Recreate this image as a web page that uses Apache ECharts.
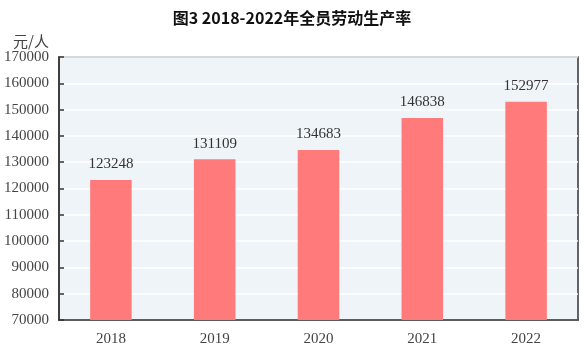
<!DOCTYPE html>
<html>
<head>
<meta charset="utf-8">
<script src="https://cdn.jsdelivr.net/npm/echarts@6/dist/echarts.min.js"></script>
<style>
  html, body { margin: 0; padding: 0; background: #fff; }
  #chart { width: 584px; height: 353px; }
</style>
</head>
<body>
<div id="chart"></div>
<script>
// 年份与全员劳动生产率（元/人）
const years = ['2018', '2019', '2020', '2021', '2022'];
const productivity = [123248, 131109, 134683, 146838, 152977];

const chart = echarts.init(document.getElementById('chart'));
const serif = '"Liberation Serif", "DejaVu Serif", serif';

chart.setOption({
  animation: false,
  title: {
    text: '图3 2018-2022年全员劳动生产率',
    left: 'center',
    top: 5,
    textStyle: { fontFamily: '"Noto Sans CJK SC", sans-serif', fontSize: 16, fontWeight: 'bold', color: '#111' }
  },
  grid: {
    left: 59, right: 6, top: 57, bottom: 33,
    show: true,
    backgroundColor: '#eef4f8',
    borderColor: '#333',
    borderWidth: 1.5
  },
  xAxis: {
    type: 'category',
    data: years,
    axisLine: { lineStyle: { color: '#333', width: 1.5 } },
    axisTick: { inside: true, length: 6, lineStyle: { color: '#333', width: 1.5 } },
    axisLabel: { fontFamily: serif, fontSize: 15, color: '#444', margin: 12 }
  },
  yAxis: {
    type: 'value',
    name: '元/人',
    nameLocation: 'end',
    nameGap: 8,
    nameTextStyle: { fontFamily: '"Noto Sans CJK SC", serif', fontSize: 15, color: '#444', align: 'right', padding: [0, 10, 0, 0] },
    min: 70000,
    max: 170000,
    interval: 10000,
    axisLine: { show: true, lineStyle: { color: '#333', width: 1.5 } },
    axisTick: { show: true, inside: true, length: 5, lineStyle: { color: '#333', width: 1.5 } },
    axisLabel: { fontFamily: serif, fontSize: 15, color: '#444', margin: 10, formatter: v => String(v) },
    splitLine: { lineStyle: { color: '#ffffff', width: 1.5 } }
  },
  series: [{
    type: 'bar',
    data: productivity,
    barWidth: '40%',
    itemStyle: { color: '#ff7b7b' },
    label: {
      show: true,
      position: 'top',
      distance: 8,
      fontFamily: serif,
      fontSize: 15,
      color: '#333'
    }
  }]
});
</script>
</body>
</html>
